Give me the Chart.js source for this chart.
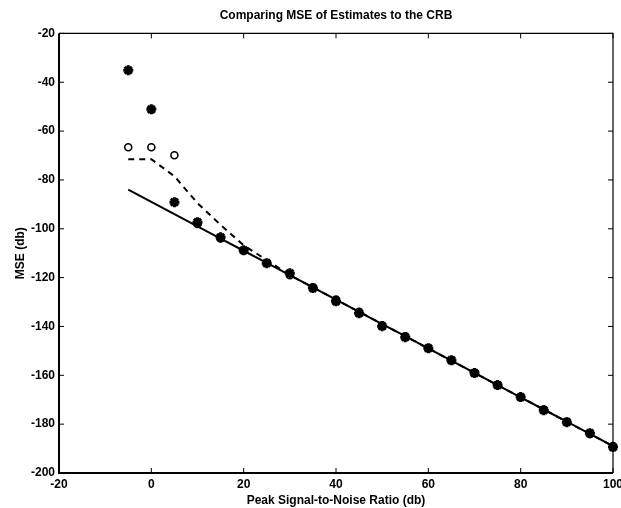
<!DOCTYPE html>
<html lang="en">
<head>
    <meta charset="UTF-8" />
    <title>Comparing MSE of Estimates to the CRB</title>
</head>

<body style="margin: 0; background: #fff;">
    <canvas id="mseChart" width="621" height="508"></canvas>

    <script src="https://cdn.jsdelivr.net/npm/chart.js@4.4.0/dist/chart.umd.min.js"></script>
    <script>
        // peak SNR (db)
        var snr = [-5, 0, 5, 10, 15, 20, 25, 30, 35, 40, 45, 50, 55, 60, 65, 70, 75, 80, 85, 90, 95, 100];
        // Cramer-Rao bound (solid)
        var crb = [-84, -89, -94, -99, -104, -109, -114, -119, -124, -129, -134, -139, -144, -149, -154, -159, -164, -169, -174, -179, -184, -189];
        // dashed curve
        var dashed = [-71.5, -71.5, -78.5, -89.5, -98.4, -106.8, -112.8, -119, -124, -129, -134, -139, -144, -149, -154, -159, -164, -169, -174, -179, -184, -189];
        // circle estimates
        var circles = [-66.6, -66.6, -69.9, -98, -104, -109, -114, -119, -124, -129, -134, -139.5, -144, -149, -154, -159, -164, -169, -174, -179, -184, -189];
        // star estimates
        var stars = [-35.1, -51.1, -89.1, -97.3, -103.5, -108.8, -114.1, -118.2, -124.3, -129.7, -134.6, -139.9, -144.4, -148.9, -153.8, -159.1, -164, -168.9, -174.3, -179.2, -183.7, -189.4];

        var xTicks = [-20, 0, 20, 40, 60, 80, 100];
        var yTicks = [-200, -180, -160, -140, -120, -100, -80, -60, -40, -20];

        function pairs(ys) {
            return snr.map((x, i) => ({ x: x, y: ys[i] }));
        }

        const font = "'Liberation Sans', Arial, sans-serif";

        // matlab style box with inward ticks
        const boxTicks = {
            id: 'boxTicks',
            afterDatasetsDraw(chart) {
                const ctx = chart.ctx;
                const a = chart.chartArea;
                const xs = chart.scales.x;
                const ys = chart.scales.y;
                ctx.save();
                ctx.strokeStyle = '#000';
                ctx.lineWidth = 1;
                xTicks.forEach(v => {
                    const px = xs.getPixelForValue(v);
                    ctx.beginPath();
                    ctx.moveTo(px, a.bottom); ctx.lineTo(px, a.bottom - 5);
                    ctx.moveTo(px, a.top); ctx.lineTo(px, a.top + 5);
                    ctx.stroke();
                });
                yTicks.forEach(v => {
                    const py = ys.getPixelForValue(v);
                    ctx.beginPath();
                    ctx.moveTo(a.left, py); ctx.lineTo(a.left + 5, py);
                    ctx.moveTo(a.right, py); ctx.lineTo(a.right - 5, py);
                    ctx.stroke();
                });
                ctx.lineWidth = 1.2;
                ctx.beginPath();
                ctx.moveTo(a.left, a.top); ctx.lineTo(a.right, a.top); ctx.lineTo(a.right, a.bottom);
                ctx.stroke();
                ctx.lineWidth = 2;
                ctx.beginPath();
                ctx.moveTo(a.left, a.top); ctx.lineTo(a.left, a.bottom); ctx.lineTo(a.right, a.bottom);
                ctx.stroke();
                ctx.restore();
            }
        };

        new Chart(document.getElementById('mseChart').getContext('2d'), {
            type: 'scatter',
            data: {
                datasets: [{
                    label: 'stars',
                    data: pairs(stars),
                    showLine: false,
                    clip: false,
                    pointStyle: 'star',
                    pointRadius: 5,
                    borderWidth: 3,
                    borderColor: '#000',
                    backgroundColor: '#000',
                    order: 1
                }, {
                    label: 'circles',
                    data: pairs(circles),
                    showLine: false,
                    clip: false,
                    pointStyle: 'circle',
                    pointRadius: 3.5,
                    borderWidth: 1.6,
                    borderColor: '#000',
                    backgroundColor: 'rgba(0,0,0,0)',
                    order: 2
                }, {
                    label: 'dashed',
                    data: pairs(dashed),
                    showLine: true,
                    pointRadius: 0,
                    borderWidth: 2,
                    borderDash: [6, 5],
                    borderColor: '#000',
                    order: 3
                }, {
                    label: 'CRB',
                    data: pairs(crb),
                    showLine: true,
                    pointRadius: 0,
                    borderWidth: 2,
                    borderColor: '#000',
                    order: 4
                }]
            },
            options: {
                responsive: false,
                animation: false,
                layout: { padding: { left: 0, right: 8, top: 0, bottom: 0 } },
                plugins: {
                    legend: { display: false },
                    tooltip: { enabled: false },
                    title: {
                        display: true,
                        fullSize: false,
                        text: 'Comparing MSE of Estimates to the CRB',
                        color: '#000',
                        font: { family: font, size: 12, weight: 'bold' },
                        padding: { top: 8, bottom: 11 }
                    }
                },
                scales: {
                    x: {
                        type: 'linear',
                        min: -20,
                        max: 100,
                        afterBuildTicks: s => { s.ticks = xTicks.map(v => ({ value: v })); },
                        // keep the box out to x=613, last label runs off the page like the scan
                        afterFit: s => { s.height = 35; s.paddingRight = 0; s.paddingLeft = 0; },
                        grid: { display: false, drawTicks: false },
                        border: { display: false },
                        ticks: { color: '#000', padding: 4, font: { family: font, size: 12, weight: 'bold' }, maxRotation: 0 },
                        title: {
                            display: true,
                            text: 'Peak Signal-to-Noise Ratio (db)',
                            color: '#000',
                            font: { family: font, size: 12, weight: 'bold' },
                            padding: 0
                        }
                    },
                    y: {
                        type: 'linear',
                        min: -200,
                        max: -20,
                        afterBuildTicks: s => { s.ticks = yTicks.map(v => ({ value: v })); },
                        afterFit: s => { s.width = 59; },
                        grid: { display: false, drawTicks: false },
                        border: { display: false },
                        ticks: { color: '#000', padding: 4, font: { family: font, size: 12, weight: 'bold' } },
                        title: {
                            display: true,
                            text: 'MSE (db)',
                            color: '#000',
                            font: { family: font, size: 12, weight: 'bold' },
                            padding: { top: 13, bottom: 6 }
                        }
                    }
                }
            },
            plugins: [boxTicks]
        });
    </script>
</body>
</html>
